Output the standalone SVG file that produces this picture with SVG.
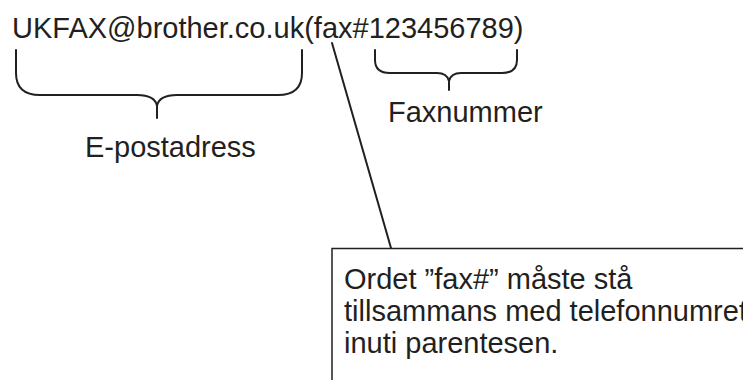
<svg xmlns="http://www.w3.org/2000/svg" width="743" height="380" viewBox="0 0 743 380">
  <style>
    .t { font-family: "Liberation Sans", Arial, sans-serif; font-size: 29px; fill: #231f20; }
    .b { font-family: "Liberation Sans", Arial, sans-serif; font-size: 29px; fill: #231f20; }
    .s { fill: none; stroke: #231f20; stroke-width: 2; stroke-linecap: round; stroke-linejoin: round; }
  </style>
  <rect width="743" height="380" fill="#ffffff"/>
  <g id="address">
    <text class="t" x="12" y="38">UKFAX@brother.co.uk(fax#123456789)</text>
  </g>
  <g id="email-brace">
    <path class="s" d="M16,50 V73 Q16,95 40,95 H137 Q155,95 157,106 V118 M157,106 Q159,95 177,95 H278 Q302,95 302,73 V50"/>
    <text class="t" x="85" y="157">E-postadress</text>
  </g>
  <g id="fax-brace">
    <path class="s" d="M375,50 V60 Q375,73 390,73 H437 Q447,73 449,81 V90 M449,81 Q451,73 461,73 H502 Q517,73 517,60 V50"/>
    <text class="t" x="388" y="122">Faxnummer</text>
  </g>
  <g id="note">
    <rect x="332" y="248.5" width="500" height="200" fill="none" stroke="#231f20" stroke-width="1.5"/>
    <text class="b" x="344" y="289">Ordet ”fax#” måste stå</text>
    <text class="b" x="344" y="321">tillsammans med telefonnumret</text>
    <text class="b" x="344" y="353">inuti parentesen.</text>
  </g>
  <g id="connectors">
    <path class="s" d="M332,43 L391,248"/>
  </g>
</svg>
